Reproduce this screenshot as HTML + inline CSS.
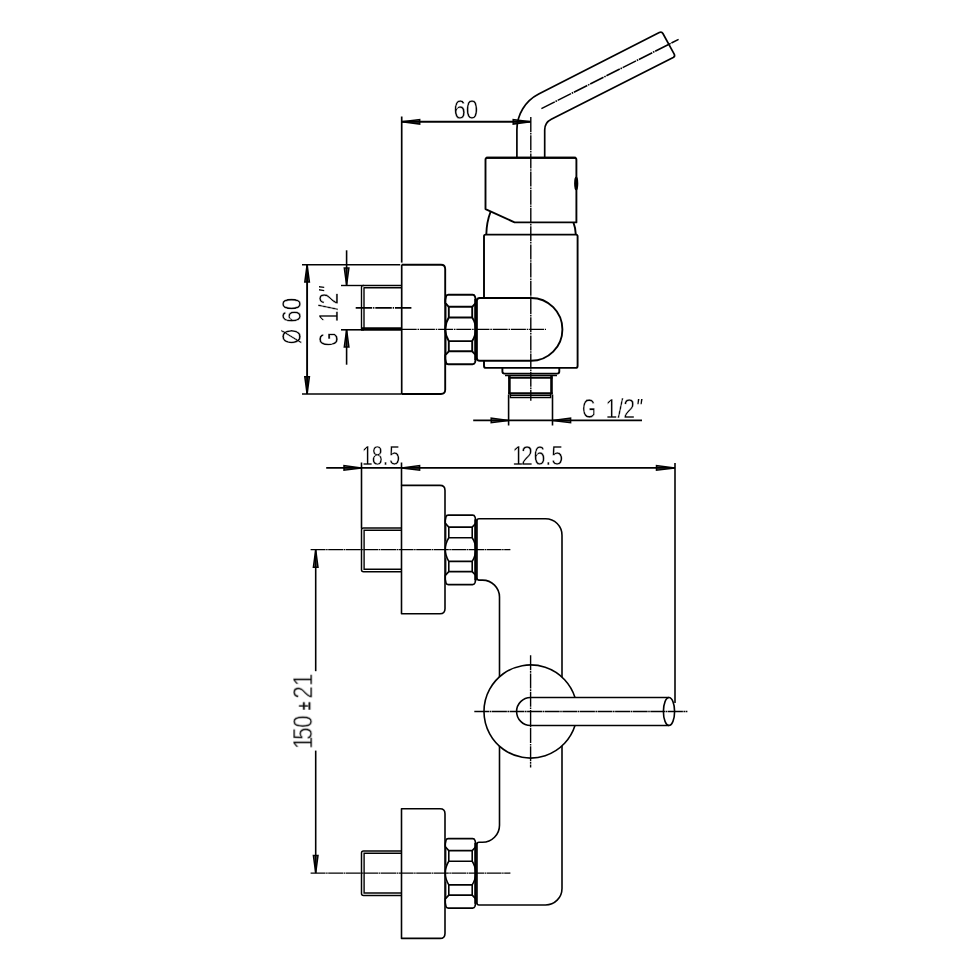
<!DOCTYPE html>
<html>
<head>
<meta charset="utf-8">
<title>Drawing</title>
<style>
html,body{margin:0;padding:0;background:#fff;}
body{width:970px;height:970px;overflow:hidden;}
svg{display:block;}
.k{fill:none;stroke:#000;stroke-width:1.9;stroke-linecap:butt;stroke-linejoin:round;}
.m{fill:none;stroke:#000;stroke-width:1.6;}
.t{fill:none;stroke:#000;stroke-width:1.2;}
.c{fill:none;stroke:#000;stroke-width:1.4;stroke-dasharray:15 0.8 1.6 0.8;}
.a{fill:#000;fill-opacity:0.55;stroke:#000;stroke-width:1.5;stroke-linejoin:miter;}
text{font-family:"Liberation Sans",sans-serif;font-size:28px;fill:#000;stroke:#fff;stroke-width:0.45px;paint-order:fill stroke;}
.q{font-size:23px;stroke:none;font-style:italic;}
.pm{font-size:18.5px;stroke:#000;stroke-width:0.5px;}
.c2{fill:none;stroke:#000;stroke-width:1.3;stroke-dasharray:15 0.5 1.6 0.5;}
#front .k{stroke-width:1.6;}
</style>
</head>
<body>
<svg width="970" height="970" viewBox="0 0 970 970">
<rect x="0" y="0" width="970" height="970" fill="#fff"/>

<!-- ================= SIDE VIEW (top) ================= -->
<g id="side">
<!-- lever -->
<path class="k" d="M516.9,157.5 L516.9,129.6 A40,40 0 0 1 538.7,94 L659.3,32.5 Q661.7,31.3 662.9,33.5 L674.2,54.2 Q675.4,56.4 673.2,57.6 L551.3,119.3 A12,12 0 0 0 544.7,130 L544.7,157.5" style="stroke-width:1.7"/>
<line class="c" x1="541.4" y1="108.6" x2="678.6" y2="39.4" style="stroke-width:1.6"/>
<!-- cap -->
<path class="k" d="M487.5,157.7 L574.4,157.7 Q576.4,157.7 576.4,159.7 L576.4,222.4 L514.6,222.4 L485.5,209.1 L485.5,159.7 Q485.5,157.7 487.5,157.7 Z"/>
<line class="k" x1="486" y1="157.7" x2="576" y2="157.7" style="stroke-width:2.1"/>
<ellipse cx="576.2" cy="183.4" rx="1.3" ry="6" class="m" style="fill:#000"/>
<!-- neck -->
<path class="k" d="M490.5,212 Q486.6,222 486.3,234.5"/>
<path class="k" d="M573.4,222.4 Q575.6,228 575.8,234.5"/>
<!-- body -->
<path class="k" d="M484,297.7 L484,236.2 Q484,234.6 485.6,234.6 L576,234.6 Q577.6,234.6 577.6,236.2 L577.6,365.9 Q577.6,367.9 575.6,367.9 L486,367.9 Q484,367.9 484,365.9 L484,361"/>
<!-- horizontal cylinder -->
<path class="k" d="M531,298 L479.7,298 Q476.9,298 476.9,300.8 L476.9,358 Q476.9,360.8 479.7,360.8 L531,360.8 A31.4,31.4 0 0 0 531,298"/>
<!-- small flange under body -->
<path class="k" d="M502.4,367.9 L502.4,371.5 Q502.4,373.6 504.5,373.6 L557.2,373.6 Q559.3,373.6 559.3,371.5 L559.3,367.9"/>
<path class="m" d="M505,375.5 L557,375.5"/>
<!-- thread outlet -->
<line class="k" x1="509.4" y1="376" x2="509.4" y2="394" style="stroke-width:2.6"/>
<line class="k" x1="551.5" y1="376" x2="551.5" y2="394" style="stroke-width:2.6"/>
<line class="k" x1="508.3" y1="377.8" x2="552.6" y2="377.8" style="stroke-width:2"/>
<line class="k" x1="508.3" y1="393.3" x2="552.6" y2="393.3" style="stroke-width:2.3"/>
<path class="m" d="M510.4,394 L510.4,397.5 L550.6,397.5 L550.6,394" style="stroke-width:1.4"/>
<line class="t" x1="510.4" y1="395.4" x2="550.6" y2="395.4"/>
<!-- nut -->
<g id="nut1">
<path class="k" d="M448.2,294.8 L472.6,294.8 Q474.4,294.8 475,296.6 L475.8,300 L475.8,303 L472.2,306.8 L448.8,306.8 L445.3,303 L445.3,300 L446,296.6 Q446.4,294.8 448.2,294.8 Z"/>
<path class="k" d="M448.8,317.5 L472.2,317.5 Q475.8,323 475.8,329.3 Q475.8,335.6 472.2,341.1 L448.8,341.1 Q445.3,335.6 445.3,329.3 Q445.3,323 448.8,317.5 Z"/>
<path class="k" d="M448.2,364.3 L472.6,364.3 Q474.4,364.3 475,362.5 L475.8,359 L475.8,355.1 L472.2,351.3 L448.8,351.3 L445.3,355.1 L445.3,359 L446,362.5 Q446.4,364.3 448.2,364.3 Z"/>
<line class="k" x1="448.8" y1="306.8" x2="448.8" y2="317.5"/>
<line class="k" x1="472.2" y1="306.8" x2="472.2" y2="317.5"/>
<line class="k" x1="448.8" y1="341.1" x2="448.8" y2="351.3"/>
<line class="k" x1="472.2" y1="341.1" x2="472.2" y2="351.3"/>
<line class="t" x1="445.8" y1="303" x2="445.8" y2="321"/>
<line class="t" x1="445.8" y1="338" x2="445.8" y2="355"/>
<line class="k" x1="475.5" y1="299" x2="475.5" y2="360" style="stroke-width:2.6"/>
</g>
<!-- wall flange -->
<path class="k" d="M401.7,264.7 L441,264.7 Q445.2,264.7 445.2,269 L445.2,389.8 Q445.2,394 441,394 L401.7,394"/>
<!-- long vertical reference line -->
<line class="k" x1="401.7" y1="116.5" x2="401.7" y2="262.6" style="stroke-width:1.7"/>
<line class="k" x1="401.7" y1="264.7" x2="401.7" y2="394" style="stroke-width:1.7"/>
<!-- pipe stub -->
<path class="k" d="M401.7,285.5 L363,285.5 Q361.5,285.5 361.5,287 L361.5,329.5" style="stroke-width:1.4"/>
<path class="k" d="M401.7,287.7 L364,287.7 L364,328.5" style="stroke-width:1.4"/>
<line class="k" x1="361" y1="329" x2="401.7" y2="329" style="stroke-width:3.3"/>
<!-- centre lines -->
<line class="c" x1="530.8" y1="117" x2="530.8" y2="400.7"/>
<line class="c" x1="401.7" y1="329.4" x2="546" y2="329.4"/>
<line class="c" x1="355.7" y1="307.9" x2="412.3" y2="307.9" style="stroke-width:1.6;stroke-dasharray:16.5 0.9 1.3 0.9"/>
<!-- dim 60 -->
<line class="k" x1="401.7" y1="121.8" x2="530.8" y2="121.8"/>
<polygon class="a" points="401.9,121.8 419.7,119.5 419.7,124.1"/>
<polygon class="a" points="530.6,121.8 513.2,119.5 513.2,124.1"/>
<!-- dim Ø60 -->
<line class="m" x1="302" y1="264.7" x2="400.2" y2="264.7"/>
<line class="m" x1="302" y1="394" x2="401.7" y2="394"/>
<line class="k" x1="307.1" y1="264.7" x2="307.1" y2="394"/>
<polygon class="a" points="307.1,264.9 304.8,282 309.4,282"/>
<polygon class="a" points="307.1,393.8 304.8,376.8 309.4,376.8"/>
<!-- dim G1/2 vertical -->
<line class="m" x1="341" y1="285.5" x2="364" y2="285.5" style="stroke-width:1.4"/>
<line class="m" x1="341" y1="329.8" x2="364" y2="329.8"/>
<line class="m" x1="346.6" y1="250.3" x2="346.6" y2="285.5"/>
<line class="m" x1="346.6" y1="329.8" x2="346.6" y2="364.7"/>
<polygon class="a" points="346.6,285 344.3,268 348.9,268"/>
<polygon class="a" points="346.6,329.8 344.3,347 348.9,347"/>
<!-- dim G1/2 bottom -->
<line class="m" x1="508.6" y1="394.5" x2="508.6" y2="425.5"/>
<line class="m" x1="552.5" y1="394.5" x2="552.5" y2="425.5"/>
<line class="m" x1="473.2" y1="420.4" x2="642" y2="420.4"/>
<polygon class="a" points="508.4,420.4 491.2,418.1 491.2,422.7"/>
<polygon class="a" points="552.7,420.4 570.6,418.1 570.6,422.7"/>
</g>

<!-- ================= FRONT VIEW (bottom) ================= -->
<g id="front">
<!-- upper wall flange -->
<path class="k" d="M401.5,485.4 L440,485.4 Q445,485.4 445,490.4 L445,608.8 Q445,613.8 440,613.8 L401.5,613.8 Z"/>
<!-- lower wall flange -->
<path class="k" d="M401.5,808.7 L440,808.7 Q445,808.7 445,813.7 L445,933.4 Q445,938.4 440,938.4 L401.5,938.4 Z"/>
<!-- upper pipe stub -->
<path class="k" d="M401.5,527.9 L363.5,527.9 Q361.5,527.9 361.5,529.9 L361.5,569.7 Q361.5,571.7 363.5,571.7 L401.5,571.7" style="stroke-width:1.5"/>
<path class="t" d="M401.5,530.2 L364.1,530.2 L364.1,569.3 L401.5,569.3" style="stroke-width:1.4"/>
<!-- lower pipe stub -->
<path class="k" d="M401.5,851 L363.5,851 Q361.5,851 361.5,853 L361.5,893.4 Q361.5,895.4 363.5,895.4 L401.5,895.4" style="stroke-width:1.5"/>
<path class="t" d="M401.5,853.3 L364.1,853.3 L364.1,893 L401.5,893" style="stroke-width:1.4"/>
<!-- body outline -->
<path class="k" d="M479,518.7 L545.5,518.7 A16.5,16.5 0 0 1 562,535.2 L562,888.5 A16.5,16.5 0 0 1 545.5,905 L479,905 Q477,905 477,903 L477,844.2 Q477,842.2 479,842.2 L482.5,842.2 A17,17 0 0 0 499.5,825.2 L499.5,597.1 A17,17 0 0 0 482.5,580.1 L479,580.1 Q477,580.1 477,578.1 L477,520.7 Q477,518.7 479,518.7 Z"/>
<!-- circle (cartridge cap) with white fill to hide body lines -->
<circle cx="530.6" cy="711.5" r="46.6" fill="#fff" stroke="none"/>
<path class="k" d="M575,697.4 A46.6,46.6 0 1 0 575,725.6"/>
<!-- handle -->
<path class="k" d="M669,697.5 L530.6,697.5 A14,14 0 0 0 530.6,725.5 L669,725.5"/>
<ellipse class="k" cx="669" cy="711.5" rx="5.6" ry="14"/>
<!-- nuts -->
<g id="nut2" transform="translate(0,220.3)">
<path class="k" d="M448.2,294.8 L472.6,294.8 Q474.4,294.8 475,296.6 L475.8,300 L475.8,303 L472.2,306.8 L448.8,306.8 L445.3,303 L445.3,300 L446,296.6 Q446.4,294.8 448.2,294.8 Z"/>
<path class="k" d="M448.8,317.5 L472.2,317.5 Q475.8,323 475.8,329.3 Q475.8,335.6 472.2,341.1 L448.8,341.1 Q445.3,335.6 445.3,329.3 Q445.3,323 448.8,317.5 Z"/>
<path class="k" d="M448.2,364.3 L472.6,364.3 Q474.4,364.3 475,362.5 L475.8,359 L475.8,355.1 L472.2,351.3 L448.8,351.3 L445.3,355.1 L445.3,359 L446,362.5 Q446.4,364.3 448.2,364.3 Z"/>
<line class="k" x1="448.8" y1="306.8" x2="448.8" y2="317.5"/>
<line class="k" x1="472.2" y1="306.8" x2="472.2" y2="317.5"/>
<line class="k" x1="448.8" y1="341.1" x2="448.8" y2="351.3"/>
<line class="k" x1="472.2" y1="341.1" x2="472.2" y2="351.3"/>
<line class="t" x1="445.8" y1="303" x2="445.8" y2="321"/>
<line class="t" x1="445.8" y1="338" x2="445.8" y2="355"/>
<line class="k" x1="475.5" y1="299" x2="475.5" y2="360" style="stroke-width:2.6"/>
</g>
<g id="nut3" transform="translate(0,543.8)">
<path class="k" d="M448.2,294.8 L472.6,294.8 Q474.4,294.8 475,296.6 L475.8,300 L475.8,303 L472.2,306.8 L448.8,306.8 L445.3,303 L445.3,300 L446,296.6 Q446.4,294.8 448.2,294.8 Z"/>
<path class="k" d="M448.8,317.5 L472.2,317.5 Q475.8,323 475.8,329.3 Q475.8,335.6 472.2,341.1 L448.8,341.1 Q445.3,335.6 445.3,329.3 Q445.3,323 448.8,317.5 Z"/>
<path class="k" d="M448.2,364.3 L472.6,364.3 Q474.4,364.3 475,362.5 L475.8,359 L475.8,355.1 L472.2,351.3 L448.8,351.3 L445.3,355.1 L445.3,359 L446,362.5 Q446.4,364.3 448.2,364.3 Z"/>
<line class="k" x1="448.8" y1="306.8" x2="448.8" y2="317.5"/>
<line class="k" x1="472.2" y1="306.8" x2="472.2" y2="317.5"/>
<line class="k" x1="448.8" y1="341.1" x2="448.8" y2="351.3"/>
<line class="k" x1="472.2" y1="341.1" x2="472.2" y2="351.3"/>
<line class="t" x1="445.8" y1="303" x2="445.8" y2="321"/>
<line class="t" x1="445.8" y1="338" x2="445.8" y2="355"/>
<line class="k" x1="475.5" y1="299" x2="475.5" y2="360" style="stroke-width:2.6"/>
</g>
<!-- centre lines -->
<line class="c2" x1="310.6" y1="549.6" x2="510.4" y2="549.6"/>
<line class="c2" x1="310.6" y1="873.1" x2="510.4" y2="873.1"/>
<line class="c2" x1="474.3" y1="711.5" x2="687.4" y2="711.5"/>
<line class="c" x1="530.6" y1="655.3" x2="530.6" y2="767.4"/>
<!-- dim 18.5 / 126.5 -->
<line class="k" x1="326.2" y1="467.9" x2="675" y2="467.9"/>
<line class="m" x1="361.5" y1="462.5" x2="361.5" y2="528.7"/>
<line class="m" x1="401.5" y1="462.5" x2="401.5" y2="485.4"/>
<line class="m" x1="675" y1="463" x2="675" y2="703"/>
<polygon class="a" points="361.3,467.9 344,465.6 344,470.2"/>
<polygon class="a" points="401.7,467.9 419.6,465.6 419.6,470.2"/>
<polygon class="a" points="674.8,467.9 656.5,465.6 656.5,470.2"/>
<!-- dim 150±21 -->
<line class="m" x1="315.7" y1="549.6" x2="315.7" y2="671.2"/>
<line class="m" x1="315.7" y1="750.6" x2="315.7" y2="873.1"/>
<polygon class="a" points="315.7,549.8 313.4,567.2 318,567.2"/>
<polygon class="a" points="315.7,872.9 313.4,855.6 318,855.6"/>
</g>

<!-- ================= TEXT ================= -->
<g id="labels" style="opacity:0.999">
<text transform="translate(453.4,118.6) scale(0.8,1)">60</text>
<text transform="translate(582,418) scale(0.76,1)"><tspan textLength="18.35" lengthAdjust="spacingAndGlyphs">G</tspan> <tspan x="31.05">1/2</tspan><tspan class="q" x="70.6" dy="-2.3">"</tspan></text>
<text transform="translate(361.8,464.5) scale(0.715,1)" dx="0 -1.7 0 0.85">18.5</text>
<text transform="translate(512.2,464.5) scale(0.77,1)" dx="0 -4 0.65 -0.3 -0.2">126.5</text>
<text transform="translate(301.3,344.2) rotate(-90) scale(0.8,1)"><tspan textLength="19.1" lengthAdjust="spacingAndGlyphs">Ø</tspan> <tspan x="26.9">60</tspan></text>
<text transform="translate(337.8,346.2) rotate(-90) scale(0.76,1)"><tspan textLength="18.35" lengthAdjust="spacingAndGlyphs">G</tspan> <tspan x="31.6">1/2</tspan><tspan class="q" x="70.2" dy="-2.3">"</tspan></text>
<text transform="translate(312.2,749) rotate(-90) scale(0.8,1)"><tspan dx="0 -4.2 -0.6">150</tspan> <tspan class="pm" x="48.75" dy="-1.8">±</tspan><tspan x="63.1" dy="1.8">21</tspan></text>
</g>
</svg>
</body>
</html>
